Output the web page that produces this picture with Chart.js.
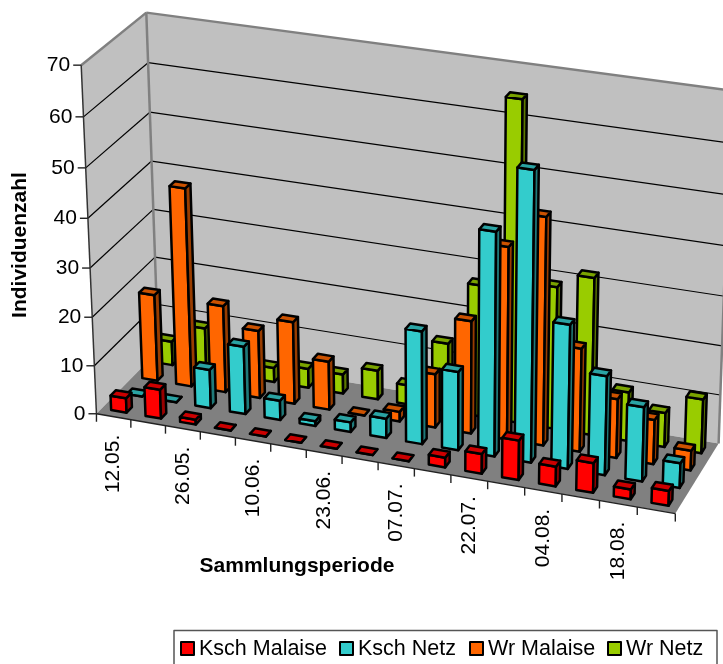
<!DOCTYPE html>
<html><head><meta charset="utf-8">
<style>html,body{margin:0;padding:0;background:#fff;overflow:hidden}canvas{display:block}</style>
<script src="https://cdn.jsdelivr.net/npm/chart.js@4/dist/chart.umd.js"></script>
</head><body><canvas id="c" width="723" height="664"></canvas>
<script>
const categories=["12.05.","","26.05.","","10.06.","","23.06.","","07.07.","","22.07.","","04.08.","","18.08.",""];
const kschMalaise=[3,6,1,0,0,0,0,0,0,2,4,8,4,6,2,3];
const kschNetz=[0,0,8,14,4,1,2,4,23,16,45,58,29,20,15,5];
const wrMalaise=[18,41,18,14,17,10,0,2,11,23,39,46,21,12,9,4];
const wrNetz=[5,9,0,3,4,4,6,4,14,27,65,29,32,10,7,11];
const seriesNames=["Ksch Malaise","Ksch Netz","Wr Malaise","Wr Netz"];
const frontColors=["#FF0000","#33CCCC","#FF6600","#99CC00"];
const topColors=["#CC0000","#2AA3A3","#CC5200","#7AA300"];
const sideColors=["#990000","#1F7A7A","#993D00","#5C7A00"];

// camera fit: box corners (u,d,h) seen in the picture
const cameraFit=[
 [0,0,0,95.7,413.3],[0,0,1,82,64.5],[0,1,0,159,351],[0,1,1,145.3,12.5],
 [1,0,0,675,514.3],[1,1,0,717.7,443.3],[1,1,1,731,91],
 [0,0,5/7,86,168.3],[0,1,3/7,153.3,210],[1,1,1/7,721.7,394.3]];
function solveCamera(pts){
 const n=11,A=Array.from({length:n},()=>Array(n+1).fill(0));
 const add=(r,b)=>{for(let i=0;i<n;i++){for(let j=0;j<n;j++)A[i][j]+=r[i]*r[j];A[i][n]+=r[i]*b;}};
 for(const [X,Y,Z,x,y] of pts){
  add([X,Y,Z,1,0,0,0,0,-x*X,-x*Y,-x*Z],x);
  add([0,0,0,0,X,Y,Z,1,-y*X,-y*Y,-y*Z],y);
 }
 for(let i=0;i<n;i++){
  let m=i;for(let k=i+1;k<n;k++)if(Math.abs(A[k][i])>Math.abs(A[m][i]))m=k;
  [A[i],A[m]]=[A[m],A[i]];
  for(let k=0;k<n;k++){if(k===i)continue;const f=A[k][i]/A[i][i];for(let j=i;j<=n;j++)A[k][j]-=f*A[i][j];}
 }
 return A.map((r,i)=>r[n]/r[i]);
}
const P=solveCamera(cameraFit);
function proj(u,d,h){
 const w=P[8]*u+P[9]*d+P[10]*h+1;
 return [(P[0]*u+P[1]*d+P[2]*h+P[3])/w,(P[4]*u+P[5]*d+P[6]*h+P[7])/w];
}
function poly(ctx,pts,fill,stroke,lw){
 ctx.beginPath();pts.forEach((p,i)=>i?ctx.lineTo(p[0],p[1]):ctx.moveTo(p[0],p[1]));ctx.closePath();
 if(fill){ctx.fillStyle=fill;ctx.fill();}
 if(stroke){ctx.strokeStyle=stroke;ctx.lineWidth=lw;ctx.lineJoin='round';ctx.stroke();}
}
function line(ctx,a,b,color,lw){ctx.beginPath();ctx.moveTo(a[0],a[1]);ctx.lineTo(b[0],b[1]);ctx.strokeStyle=color;ctx.lineWidth=lw;ctx.stroke();}
const FONT='"Liberation Sans", Arial, sans-serif';
const BAR_W=0.45,BAR_D=0.34,BAR_LINE=2.5;

const scene3d={id:'scene3d',
 beforeDatasetsDraw(chart){
  const ctx=chart.ctx,{x:xs,y:ys}=chart.scales,area=chart.chartArea;
  const H=v=>(area.bottom-ys.getPixelForValue(v))/area.height;
  const U=i=>(xs.getPixelForValue(i)-area.left)/area.width;
  const cell=1/categories.length;
  ctx.save();
  // walls and floor
  poly(ctx,[proj(0,0,0),proj(0,0,1),proj(0,1,1),proj(0,1,0)],'#C0C0C0');
  poly(ctx,[proj(0,1,0),proj(0,1,1),proj(1,1,1),proj(1,1,0)],'#C0C0C0');
  poly(ctx,[proj(0,0,0),proj(0,1,0),proj(1,1,0),proj(1,0,0)],'#808080');
  // gridlines
  ys.ticks.forEach(t=>{
   if(t.value===0||t.value===70)return;
   const h=H(t.value);
   line(ctx,proj(0,0,h),proj(0,1,h),'#000',1.2);
   line(ctx,proj(0,1,h),proj(1,1,h),'#000',1.2);
  });
  line(ctx,proj(0,0,1),proj(0,1,1),'#808080',2.5);
  line(ctx,proj(0,1,1),proj(1,1,1),'#808080',2.5);
  line(ctx,proj(0,1,0),proj(0,1,1),'#808080',2.5);
  line(ctx,proj(1,1,0),proj(1,1,1),'#808080',2.5);
  line(ctx,proj(0,0,0),proj(0,0,1),'#333',1.5);
  line(ctx,proj(0,0,0),proj(1,0,0),'#222',1.4);
  // y ticks + labels
  ctx.font='21px '+FONT;ctx.fillStyle='#000';ctx.textAlign='right';ctx.textBaseline='middle';
  ys.ticks.forEach(t=>{
   const p=proj(0,0,H(t.value));
   line(ctx,[p[0]-8,p[1]],p,'#222',1.4);
   ctx.fillStyle='#000';ctx.fillText(String(t.value),p[0]-11,p[1]);
  });
  // x ticks + labels
  categories.forEach((lab,i)=>{
   const u0=U(i)-cell/2;
   const p=proj(u0,0,0);
   line(ctx,p,[p[0],p[1]+8],'#222',1.4);
   if(i===categories.length-1){const q=proj(1,0,0);line(ctx,q,[q[0],q[1]+8],'#222',1.4);}
   if(lab){
    const c=proj(U(i),0,0);
    ctx.save();ctx.translate(c[0],c[1]+18);ctx.rotate(-Math.PI/2);
    ctx.textAlign='right';ctx.textBaseline='middle';ctx.fillStyle='#000';ctx.font='21px '+FONT;
    ctx.fillText(lab,0,0);ctx.restore();
   }
  });
  // bars, back row first
  for(let s=chart.data.datasets.length-1;s>=0;s--){
   const vals=chart.data.datasets[s].data;
   const n=chart.data.datasets.length;
   vals.forEach((v,i)=>{
    const uc=U(i),u0=uc-BAR_W*cell/2,u1=uc+BAR_W*cell/2;
    const dc=(s+.5)/n,d0=dc-BAR_D/n/2,d1=dc+BAR_D/n/2;
    const h=H(v);
    poly(ctx,[proj(u0,d0,0),proj(u1,d0,0),proj(u1,d0,h),proj(u0,d0,h)],frontColors[s],'#000',BAR_LINE);
    poly(ctx,[proj(u1,d0,0),proj(u1,d1,0),proj(u1,d1,h),proj(u1,d0,h)],sideColors[s],'#000',BAR_LINE);
    poly(ctx,[proj(u0,d0,h),proj(u1,d0,h),proj(u1,d1,h),proj(u0,d1,h)],topColors[s],'#000',BAR_LINE);
   });
  }
  // axis titles
  ctx.fillStyle='#000';ctx.font='bold 21px '+FONT;ctx.textAlign='center';ctx.textBaseline='middle';
  ctx.fillText('Sammlungsperiode',297,566);
  ctx.save();ctx.translate(20,245);ctx.rotate(-Math.PI/2);ctx.fillText('Individuenzahl',0,0);ctx.restore();
  // legend
  ctx.strokeStyle='#555';ctx.lineWidth=1.5;ctx.strokeRect(174,630.5,543,50);
  const lx=[181,340,470,608];
  ctx.font='21.5px '+FONT;ctx.textAlign='left';ctx.textBaseline='middle';
  chart.data.datasets.forEach((ds,i)=>{
   ctx.fillStyle=ds.backgroundColor;ctx.fillRect(lx[i],642,13,13);
   ctx.strokeStyle='#000';ctx.lineWidth=2;ctx.strokeRect(lx[i],642,13,13);
   ctx.fillStyle='#000';ctx.fillText(ds.label,lx[i]+18,649);
  });
  ctx.restore();
  return false;
 }
};
const datasetValues=[kschMalaise,kschNetz,wrMalaise,wrNetz];
new Chart(document.getElementById('c'),{
 type:'bar',
 data:{labels:categories,datasets:datasetValues.map((d,i)=>({label:seriesNames[i],data:d,backgroundColor:frontColors[i],borderColor:'#000',borderWidth:2}))},
 plugins:[scene3d],
 options:{responsive:false,animation:false,devicePixelRatio:1,
  layout:{padding:{left:82,right:48,top:63,bottom:250}},
  plugins:{legend:{display:false},title:{display:false},tooltip:{enabled:false}},
  scales:{
   x:{display:false,type:'category',offset:true,grid:{display:false}},
   y:{display:false,type:'linear',min:0,max:70,ticks:{stepSize:10},grid:{display:false}}
  }}
});
</script></body></html>
